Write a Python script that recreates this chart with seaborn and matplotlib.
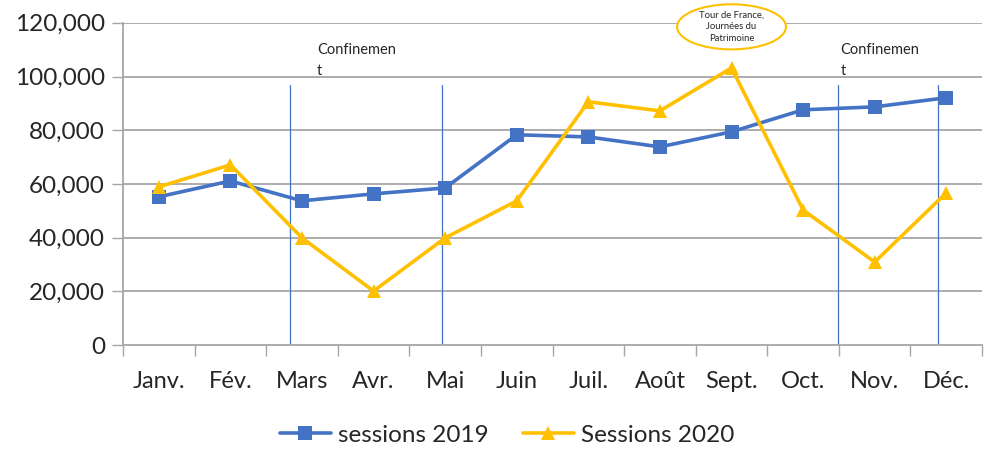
import numpy as np
import pandas as pd
import matplotlib
matplotlib.use("Agg")
import matplotlib.pyplot as plt
import seaborn as sns
from matplotlib.patches import Ellipse
from matplotlib.ticker import FuncFormatter

# Données
mois = ["Janv.", "Fév.", "Mars", "Avr.", "Mai", "Juin",
        "Juil.", "Août", "Sept.", "Oct.", "Nov.", "Déc."]
sessions_2019 = [55200, 61100, 53700, 56300, 58500, 78300,
                 77500, 73800, 79400, 87600, 88700, 92100]
sessions_2020 = [58900, 67100, 39900, 20100, 39900, 53700,
                 90600, 87200, 103200, 50300, 30900, 56700]

sns.set_theme(style="white")
plt.rcParams['font.family'] = ['Lato', 'DejaVu Sans']

df = pd.DataFrame({
    "idx": list(range(len(mois))) * 2,
    "sessions": sessions_2019 + sessions_2020,
    "serie": ["sessions 2019"] * len(mois) + ["Sessions 2020"] * len(mois),
})

fig = plt.figure(figsize=(9.92, 4.5), dpi=100)
ax = fig.add_axes([0.124, 0.2333, 0.866, 0.716])

# grille horizontale
for v in range(20000, 120001, 20000):
    ax.axhline(v, color="#a6a6a6", lw=1.3, zorder=0)

# lignes "confinement"
for xv in [1.83, 3.96, 9.49, 10.89]:
    ax.plot([xv, xv], [-500, 97000], color="#4472C4", lw=0.9, zorder=1)

sns.lineplot(data=df, x="idx", y="sessions", hue="serie", style="serie",
             palette={"sessions 2019": "#4472C4", "Sessions 2020": "#FFC000"},
             markers={"sessions 2019": "s", "Sessions 2020": "^"},
             dashes=False, linewidth=2.6, markersize=10, markeredgewidth=0,
             ax=ax, zorder=3)

ax.set_xlim(-0.5, 11.5)
ax.set_ylim(0, 120000)
ax.set_xlabel("")
ax.set_ylabel("")

ax.set_xticks(np.arange(-0.5, 12, 1))
ax.set_xticklabels([])
ax.set_xticks(range(len(mois)), minor=True)
ax.set_xticklabels(mois, minor=True, fontsize=17)
ax.tick_params(axis="x", which="major", length=8, width=1, color="#a6a6a6", direction="out", bottom=True)
ax.tick_params(axis="x", which="minor", length=0, pad=19)

ax.set_yticks(range(0, 120001, 20000))
ax.yaxis.set_major_formatter(FuncFormatter(lambda v, p: f"{int(v):,}"))
ax.tick_params(axis="y", length=8, width=1, color="#a6a6a6", direction="out", left=True, labelsize=17.5, pad=5)

for s in ["top", "right"]:
    ax.spines[s].set_visible(False)
ax.spines["left"].set_color("#a6a6a6")
ax.spines["bottom"].set_color("#a6a6a6")
ax.spines["left"].set_linewidth(1.3)
ax.spines["bottom"].set_linewidth(1.3)

# annotations
ax.text(2.21, 112500, "Confinemen\nt", fontsize=10.5, va="top", ha="left", linespacing=1.6)
ax.text(9.52, 112500, "Confinemen\nt", fontsize=10.5, va="top", ha="left", linespacing=1.6)

ell = Ellipse((8.0, 118500), width=1.52, height=16800, facecolor="white",
              edgecolor="#FFC000", lw=1.5, clip_on=False, zorder=5)
ax.add_patch(ell)
ax.text(8.0, 118500, "Tour de France,\nJournées du\nPatrimoine", fontsize=6.8,
        ha="center", va="center", zorder=6, linespacing=1.45)

leg = ax.legend(loc="upper center", bbox_to_anchor=(0.447, -0.195), ncol=2,
                frameon=False, fontsize=17.5, handlelength=2.1, columnspacing=1.4,
                handletextpad=0.3, borderpad=0.2)

fig.savefig("out.png", dpi=100)
